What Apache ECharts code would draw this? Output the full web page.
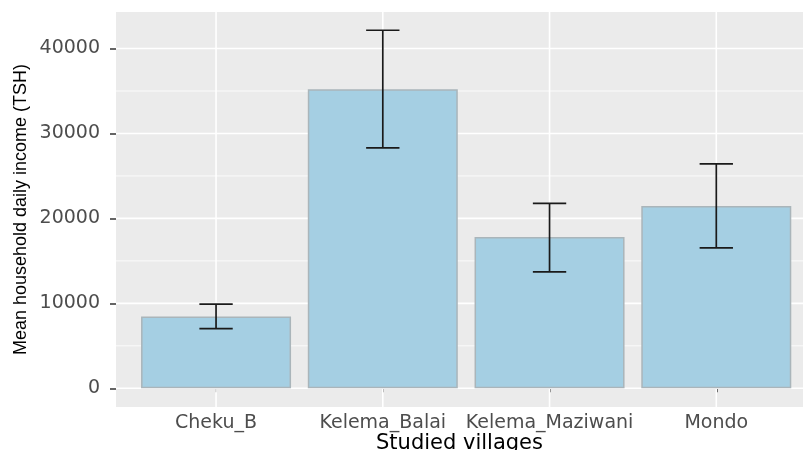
<!DOCTYPE html>
<html>
<head>
<meta charset="utf-8">
<script src="https://cdn.jsdelivr.net/npm/echarts@6/dist/echarts.min.js"></script>
<style>
  html, body { margin: 0; padding: 0; background: #fff; }
  #chart { width: 803px; height: 450px; }
</style>
</head>
<body>
<div id="chart"></div>
<script>
// villages and their mean daily income with error bar ends
const villages = ['Cheku_B', 'Kelema_Balai', 'Kelema_Maziwani', 'Mondo']
const means = [8450, 35200, 17800, 21450]
const lower = [7030, 28300, 13700, 16530]
const upper = [9900, 42150, 21780, 26420]
// tick labels / grid values
const yMajor = [0, 10000, 20000, 30000, 40000]
const yMinor = [5000, 15000, 25000, 35000]

const xPos = villages.map((v, i) => i + 1)
const yMin = -2200, yMax = 44300
// panel is cut off by the right edge of the picture
const xMin = 0.4, xMax = 4.52

const chart = echarts.init(document.getElementById('chart'))

// background grid lines drawn through the axes
function renderGrid(params, api) {
  const children = []
  const line = (p1, p2, w) => ({
    type: 'line',
    shape: { x1: p1[0], y1: p1[1], x2: p2[0], y2: p2[1] },
    style: { stroke: '#ffffff', lineWidth: w }
  })
  yMinor.forEach(v => children.push(line(api.coord([xMin, v]), api.coord([xMax, v]), 0.8)))
  yMajor.forEach(v => children.push(line(api.coord([xMin, v]), api.coord([xMax, v]), 1.6)))
  xPos.forEach(v => children.push(line(api.coord([v, yMin]), api.coord([v, yMax]), 1.6)))
  return { type: 'group', children: children }
}

function renderErr(params, api) {
  const x = api.value(0)
  const lo = api.coord([x, api.value(1)])
  const hi = api.coord([x, api.value(2)])
  const half = (api.coord([x + 0.1, 0])[0] - api.coord([x, 0])[0])
  const st = { stroke: '#1a1a1a', lineWidth: 1.7 }
  return {
    type: 'group',
    children: [
      { type: 'line', shape: { x1: hi[0], y1: hi[1], x2: lo[0], y2: lo[1] }, style: st },
      { type: 'line', shape: { x1: hi[0] - half, y1: hi[1], x2: hi[0] + half, y2: hi[1] }, style: st },
      { type: 'line', shape: { x1: lo[0] - half, y1: lo[1], x2: lo[0] + half, y2: lo[1] }, style: st }
    ]
  }
}

const option = {
  animation: false,
  backgroundColor: '#ffffff',
  grid: {
    left: 116, right: 0, top: 12, bottom: 43,
    outerBoundsMode: 'none',
    show: true, backgroundColor: '#ebebeb', borderWidth: 0
  },
  xAxis: {
    type: 'value',
    min: xMin, max: xMax,
    name: 'Studied villages',
    nameLocation: 'middle',
    nameGap: 26,
    nameMoveOverlap: false,
    nameTextStyle: { fontFamily: 'DejaVu Sans', fontSize: 21, color: '#000', verticalAlign: 'top' },
    axisLine: { show: false },
    splitLine: { show: false },
    axisTick: { show: true, customValues: xPos, length: 4, lineStyle: { color: '#333', width: 1.5 } },
    axisLabel: {
      customValues: xPos,
      margin: 7,
      fontFamily: 'DejaVu Sans', fontSize: 19, color: '#4d4d4d',
      formatter: v => villages[Math.round(v) - 1] || ''
    }
  },
  yAxis: {
    type: 'value',
    min: yMin, max: yMax,
    name: 'Mean household daily income (TSH)',
    nameLocation: 'middle',
    nameGap: 86,
    nameMoveOverlap: false,
    nameTextStyle: { fontFamily: 'Liberation Sans', fontSize: 18, color: '#000' },
    axisLine: { show: false },
    splitLine: { show: false },
    axisTick: { show: true, customValues: yMajor, length: 6, lineStyle: { color: '#333', width: 1.5 } },
    axisLabel: {
      customValues: yMajor,
      margin: 16,
      fontFamily: 'DejaVu Sans', fontSize: 19, color: '#4d4d4d',
      formatter: v => String(v)
    }
  },
  series: [
    {
      type: 'custom',
      z: 1,
      silent: true,
      renderItem: renderGrid,
      data: [[1, 0]]
    },
    {
      type: 'bar',
      z: 2,
      barWidth: 150,
      itemStyle: { color: '#a5cfe3', borderColor: '#aab5ba', borderWidth: 1.5 },
      data: xPos.map((x, i) => [x, means[i]])
    },
    {
      type: 'custom',
      z: 3,
      renderItem: renderErr,
      data: xPos.map((x, i) => [x, lower[i], upper[i]])
    }
  ]
}
chart.setOption(option)
</script>
</body>
</html>
